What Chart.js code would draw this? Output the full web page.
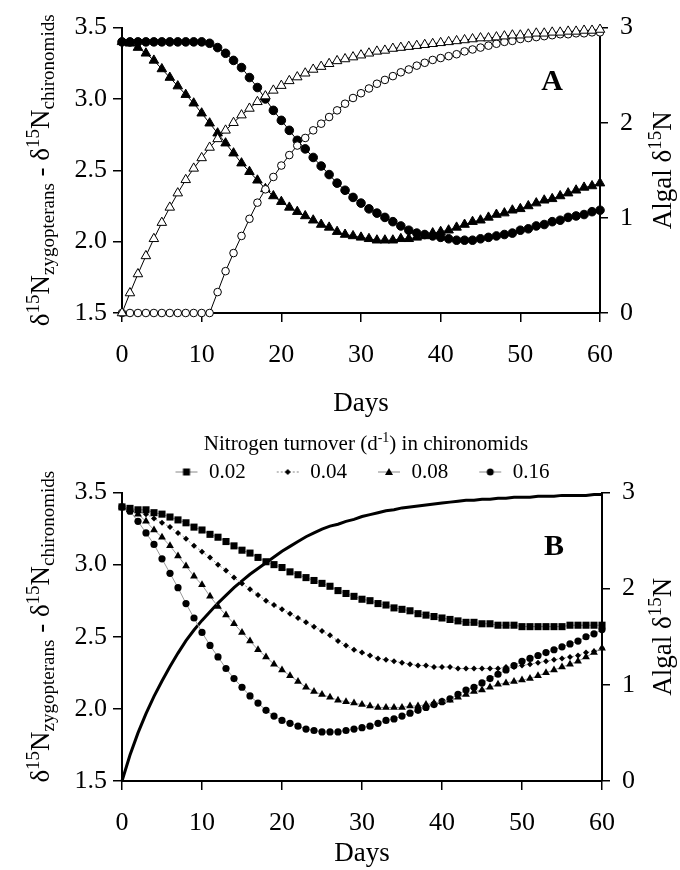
<!DOCTYPE html>
<html>
<head>
<meta charset="utf-8">
<script src="https://cdn.jsdelivr.net/npm/chart.js@4.4.1/dist/chart.umd.min.js"></script>
<style>
body { margin: 0; background: #fff; }
#wrap { position: relative; width: 680px; height: 870px; background: #fff; }
#chartA { position: absolute; left: 0; top: 0; }
#chartB { position: absolute; left: 0; top: 420px; }
</style>
</head>
<body>
<div id="wrap">
<canvas id="chartA" width="680" height="420"></canvas>
<canvas id="chartB" width="680" height="450"></canvas>
</div>
<script>
// x values, days 0..60
var days = [0,1,2,3,4,5,6,7,8,9,10,11,12,13,14,15,16,17,18,19,20,21,22,23,24,25,26,27,28,29,30,
            31,32,33,34,35,36,37,38,39,40,41,42,43,44,45,46,47,48,49,50,51,52,53,54,55,56,57,58,59,60];

var xTicks = [0, 10, 20, 30, 40, 50, 60];
var leftTicks = [1.5, 2.0, 2.5, 3.0, 3.5];
var rightTicks = [0, 1, 2, 3];

// panel A - chironomid/zygopteran difference (left axis)
var aFilledCircles = [3.40,3.40,3.40,3.40,3.40,3.40,3.40,3.40,3.40,3.40,3.40,
  3.39,3.36,3.32,3.27,3.22,3.15,3.08,3.00,2.92,
  2.85,2.78,2.71,2.65,2.59,2.53,2.47,2.41,2.36,2.31,
  2.27,2.23,2.20,2.17,2.14,2.11,2.08,2.06,2.05,2.04,
  2.03,2.02,2.01,2.01,2.01,2.02,2.03,2.04,2.05,2.06,
  2.08,2.09,2.11,2.12,2.14,2.15,2.17,2.18,2.19,2.21,
  2.22];
var aFilledTriangles = [3.40,3.39,3.36,3.32,3.27,3.21,3.15,3.09,3.03,2.97,
  2.90,2.83,2.76,2.69,2.62,2.55,2.49,2.43,2.37,2.32,
  2.28,2.24,2.21,2.18,2.15,2.12,2.10,2.07,2.05,2.04,
  2.03,2.02,2.01,2.01,2.01,2.02,2.02,2.03,2.04,2.06,
  2.07,2.08,2.10,2.12,2.14,2.15,2.17,2.19,2.20,2.22,
  2.23,2.25,2.27,2.29,2.30,2.32,2.34,2.36,2.38,2.39,
  2.41];
// panel A - algal d15N (right axis)
var aOpenTriangles = [0,0.21,0.41,0.60,0.78,0.95,1.11,1.26,1.40,1.52,
  1.63,1.74,1.83,1.92,2.00,2.08,2.15,2.22,2.28,2.34,
  2.39,2.44,2.48,2.52,2.56,2.59,2.62,2.65,2.67,2.69,
  2.71,2.73,2.75,2.76,2.78,2.79,2.80,2.81,2.82,2.83,
  2.84,2.85,2.86,2.87,2.88,2.89,2.89,2.90,2.91,2.92,
  2.92,2.93,2.94,2.94,2.95,2.95,2.96,2.96,2.97,2.97,
  2.98];
var aOpenCircles = [0,0,0,0,0,0,0,0,0,0,
  0,0,0.22,0.44,0.63,0.81,0.99,1.16,1.30,1.43,
  1.55,1.66,1.76,1.84,1.92,1.99,2.06,2.13,2.20,2.26,
  2.31,2.36,2.41,2.45,2.49,2.53,2.56,2.60,2.63,2.66,
  2.68,2.70,2.72,2.75,2.77,2.79,2.81,2.83,2.85,2.86,
  2.88,2.89,2.90,2.91,2.92,2.93,2.93,2.94,2.94,2.95,
  2.95];

// panel B - nitrogen turnover in chironomids
var turnoverLabels = ['0.02', '0.04', '0.08', '0.16'];
var b002 = [3.40,3.39,3.38,3.38,3.36,3.35,3.33,3.31,3.29,3.26,
  3.24,3.21,3.19,3.16,3.13,3.10,3.08,3.05,3.02,3.00,
  2.98,2.95,2.93,2.91,2.89,2.87,2.85,2.82,2.80,2.78,
  2.76,2.75,2.73,2.72,2.70,2.69,2.68,2.66,2.65,2.64,
  2.63,2.62,2.61,2.60,2.60,2.59,2.59,2.58,2.58,2.58,
  2.57,2.57,2.57,2.57,2.57,2.57,2.58,2.58,2.58,2.58,
  2.58];
var b004 = [3.40,3.39,3.37,3.35,3.32,3.29,3.26,3.22,3.18,3.13,
  3.09,3.05,3.00,2.96,2.91,2.87,2.83,2.79,2.75,2.72,
  2.69,2.66,2.63,2.60,2.57,2.54,2.51,2.47,2.44,2.41,
  2.39,2.37,2.35,2.34,2.33,2.32,2.31,2.30,2.30,2.29,
  2.29,2.29,2.28,2.28,2.28,2.28,2.28,2.28,2.29,2.29,
  2.30,2.31,2.32,2.33,2.34,2.35,2.36,2.37,2.39,2.40,
  2.42];
var b008 = [3.40,3.38,3.35,3.30,3.24,3.19,3.13,3.06,2.99,2.92,
  2.86,2.78,2.71,2.65,2.59,2.53,2.47,2.41,2.36,2.31,
  2.27,2.23,2.19,2.15,2.12,2.10,2.08,2.06,2.05,2.04,
  2.03,2.02,2.01,2.01,2.01,2.01,2.02,2.02,2.03,2.04,
  2.05,2.06,2.08,2.10,2.12,2.13,2.15,2.17,2.18,2.19,
  2.20,2.21,2.23,2.25,2.27,2.29,2.31,2.33,2.36,2.39,
  2.42];
var b016 = [3.40,3.37,3.30,3.22,3.14,3.04,2.94,2.84,2.73,2.63,
  2.53,2.44,2.36,2.28,2.21,2.15,2.09,2.04,1.99,1.95,
  1.92,1.90,1.88,1.86,1.85,1.84,1.84,1.84,1.85,1.86,
  1.87,1.88,1.90,1.92,1.93,1.95,1.97,1.99,2.01,2.03,
  2.05,2.07,2.10,2.13,2.15,2.18,2.21,2.24,2.27,2.30,
  2.33,2.35,2.37,2.39,2.41,2.43,2.45,2.47,2.50,2.52,
  2.55];
var bAlgal = [0,0.27,0.50,0.70,0.88,1.04,1.19,1.33,1.46,1.57,
  1.67,1.76,1.85,1.93,2.01,2.08,2.15,2.21,2.27,2.33,
  2.39,2.44,2.49,2.54,2.58,2.62,2.65,2.67,2.70,2.72,
  2.75,2.77,2.79,2.81,2.82,2.84,2.85,2.86,2.87,2.88,
  2.89,2.90,2.91,2.92,2.92,2.93,2.93,2.94,2.94,2.95,
  2.95,2.95,2.96,2.96,2.96,2.97,2.97,2.97,2.97,2.98,
  2.98];

var SERIF = '"Liberation Serif", "Times New Roman", serif';

function pts(ys) {
    return days.map(function (d, i) { return { x: d, y: ys[i] }; });
}

// text with super/subscripts, parts = [[text, 'sup'|'sub'|'']]
function drawRich(ctx, parts, cx, cy, rotate, big, small) {
    ctx.save();
    ctx.translate(cx, cy);
    if (rotate) ctx.rotate(-Math.PI / 2);
    ctx.fillStyle = '#000';
    ctx.textBaseline = 'alphabetic';
    ctx.textAlign = 'left';
    var total = 0;
    parts.forEach(function (p) {
        ctx.font = (p[1] ? small : big) + 'px ' + SERIF;
        total += ctx.measureText(p[0]).width;
    });
    var x = -total / 2;
    parts.forEach(function (p) {
        ctx.font = (p[1] ? small : big) + 'px ' + SERIF;
        var dy = 0;
        if (p[1] == 'sup') dy = -big * 0.38;
        if (p[1] == 'sub') dy = big * 0.2;
        ctx.fillText(p[0], x, dy);
        x += ctx.measureText(p[0]).width;
    });
    ctx.restore();
}

var leftTitle = [['δ', ''], ['15', 'sup'], ['N', ''], ['zygopterans', 'sub'], [' - ', ''],
                 ['δ', ''], ['15', 'sup'], ['N', ''], ['chironomids', 'sub']];
var rightTitle = [['Algal δ', ''], ['15', 'sup'], ['N', '']];

function titlesPlugin(letter, legendTitle) {
    return {
        id: 'titles',
        afterDraw: function (chart) {
            var ctx = chart.ctx;
            var a = chart.chartArea;
            var yl = chart.scales.yLeft;
            var xs = chart.scales.x;
            drawRich(ctx, leftTitle, 49, (a.top + a.bottom) / 2 - (legendTitle ? 10 : 0), true, 27, 19);
            drawRich(ctx, rightTitle, 671, (a.top + a.bottom) / 2, true, 27, 19);
            ctx.save();
            ctx.font = 'bold 30px ' + SERIF;
            ctx.fillStyle = '#000';
            ctx.textAlign = 'center';
            ctx.textBaseline = 'middle';
            ctx.fillText(letter, xs.getPixelForValue(54), yl.getPixelForValue(3.12));
            ctx.restore();
            if (legendTitle) {
                drawRich(ctx, legendTitle, (a.left + a.right) / 2 + 4, 30, false, 21, 14);
            }
        }
    };
}

function axes(xHeight, rightWidth) {
    var tickFont = { family: SERIF, size: 26 };
    return {
        x: {
            type: 'linear', min: 0, max: 60,
            afterFit: function (s) { s.height = xHeight; },
            afterBuildTicks: function (s) { s.ticks = xTicks.map(function (v) { return { value: v }; }); },
            border: { display: true, color: '#000', width: 2 },
            grid: { drawOnChartArea: false, drawTicks: true, tickLength: 9, color: '#000', lineWidth: 1.5 },
            ticks: { font: tickFont, color: '#000', padding: 18, maxRotation: 0 },
            title: { display: true, text: 'Days', font: { family: SERIF, size: 27 }, color: '#000', padding: { top: 0, bottom: 0 } }
        },
        yLeft: {
            type: 'linear', position: 'left', min: 1.5, max: 3.5,
            afterFit: function (s) { s.width = 122; },
            afterBuildTicks: function (s) { s.ticks = leftTicks.map(function (v) { return { value: v }; }); },
            border: { display: true, color: '#000', width: 2 },
            grid: { drawOnChartArea: false, drawTicks: true, tickLength: 9, color: '#000', lineWidth: 1.5 },
            ticks: { font: tickFont, color: '#000', padding: 6, callback: function (v) { return v.toFixed(1); } }
        },
        yRight: {
            type: 'linear', position: 'right', min: 0, max: 3,
            afterFit: function (s) { s.width = rightWidth; },
            afterBuildTicks: function (s) { s.ticks = rightTicks.map(function (v) { return { value: v }; }); },
            border: { display: true, color: '#000', width: 2 },
            grid: { drawOnChartArea: false, drawTicks: true, tickLength: 8, color: '#000', lineWidth: 1.5 },
            ticks: { font: tickFont, color: '#000', padding: 12 }
        }
    };
}

// ---------- panel A ----------
new Chart(document.getElementById('chartA'), {
    type: 'line',
    data: {
        datasets: [
            { data: pts(aOpenTriangles), yAxisID: 'yRight', borderColor: '#000', borderWidth: 1,
              pointStyle: 'triangle', pointRadius: 5.5, pointBackgroundColor: '#fff', pointBorderColor: '#000', pointBorderWidth: 1, clip: false },
            { data: pts(aOpenCircles), yAxisID: 'yRight', borderColor: '#000', borderWidth: 1,
              pointStyle: 'circle', pointRadius: 3.8, pointBackgroundColor: '#fff', pointBorderColor: '#000', pointBorderWidth: 1, clip: false },
            { data: pts(aFilledTriangles), yAxisID: 'yLeft', borderColor: '#000', borderWidth: 1,
              pointStyle: 'triangle', pointRadius: 5.5, pointBackgroundColor: '#000', pointBorderColor: '#000', pointBorderWidth: 1, clip: false },
            { data: pts(aFilledCircles), yAxisID: 'yLeft', borderColor: '#000', borderWidth: 1,
              pointStyle: 'circle', pointRadius: 4.3, pointBackgroundColor: '#000', pointBorderColor: '#000', pointBorderWidth: 1, clip: false }
        ]
    },
    options: {
        responsive: false, animation: false,
        layout: { padding: { top: 21, left: 0, right: 0, bottom: 0 } },
        plugins: { legend: { display: false }, tooltip: { enabled: false } },
        scales: axes(107, 80)
    },
    plugins: [titlesPlugin('A', null)]
});

// ---------- panel B ----------
function legendIcon(style, dashed) {
    var c = document.createElement('canvas');
    c.width = 24; c.height = 12;
    var g = c.getContext('2d');
    g.strokeStyle = '#888';
    g.lineWidth = 1;
    if (dashed) g.setLineDash([2, 2]);
    g.beginPath(); g.moveTo(1, 6); g.lineTo(23, 6); g.stroke();
    g.fillStyle = '#000';
    g.beginPath();
    if (style == 'rect') g.rect(8.5, 2.5, 7, 7);
    if (style == 'rectRot') { g.moveTo(12, 3); g.lineTo(15, 6); g.lineTo(12, 9); g.lineTo(9, 6); g.closePath(); }
    if (style == 'triangle') { g.moveTo(12, 2); g.lineTo(16, 9); g.lineTo(8, 9); g.closePath(); }
    if (style == 'circle') g.arc(12, 6, 3.5, 0, Math.PI * 2);
    g.fill();
    return c;
}
var bStyles = ['rect', 'rectRot', 'triangle', 'circle'];
var bRadius = [5, 3, 4.5, 3.6];
var bSeries = [b002, b004, b008, b016];
var bIcons = bStyles.map(function (s, i) { return legendIcon(s, i == 1); });

var bSets = bSeries.map(function (ys, i) {
    return { label: turnoverLabels[i], data: pts(ys), yAxisID: 'yLeft',
             borderColor: '#999', borderWidth: 1, borderDash: i == 1 ? [2, 2] : [],
             pointStyle: bStyles[i], pointRadius: bRadius[i],
             pointBackgroundColor: '#000', pointBorderColor: '#000', pointBorderWidth: 0, clip: false };
});
bSets.push({ label: 'Algal', data: pts(bAlgal), yAxisID: 'yRight', borderColor: '#000', borderWidth: 3,
             pointRadius: 0, clip: false });

new Chart(document.getElementById('chartB'), {
    type: 'line',
    data: { datasets: bSets },
    options: {
        responsive: false, animation: false,
        layout: { padding: { top: 11.5, left: 0, right: 0, bottom: 0 } },
        plugins: {
            tooltip: { enabled: false },
            legend: {
                display: true, position: 'top', fullSize: false,
                labels: {
                    usePointStyle: true, pointStyleWidth: 24, padding: 30,
                    font: { family: SERIF, size: 21 }, color: '#000',
                    generateLabels: function () {
                        return turnoverLabels.map(function (t, i) {
                            return { text: t, pointStyle: bIcons[i], datasetIndex: i, hidden: false,
                                     lineWidth: 0, fillStyle: '#000', strokeStyle: '#000', fontColor: '#000' };
                        });
                    }
                }
            }
        },
        scales: axes(89, 78)
    },
    plugins: [titlesPlugin('B', [['Nitrogen turnover (d', ''], ['-1', 'sup'], [') in chironomids', '']])]
});
</script>
</body>
</html>
